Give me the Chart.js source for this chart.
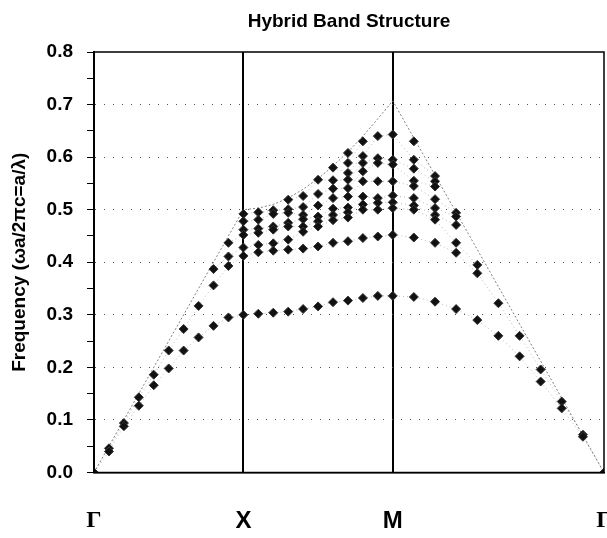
<!DOCTYPE html>
<html>
<head>
<meta charset="utf-8">
<script src="https://cdn.jsdelivr.net/npm/chart.js@4/dist/chart.umd.min.js"></script>
<style>
  html, body { margin: 0; padding: 0; background: #fff; overflow: hidden; }
</style>
</head>
<body>
<canvas id="bandChart" width="620" height="538"></canvas>
<script>
const _ = null;

// positions along the k-path: G-X and X-M in 10 steps, M-G (length sqrt2) in 10 steps
const kPath = [0, 0.1, 0.2, 0.3, 0.4, 0.5, 0.6, 0.7, 0.8, 0.9, 1.0,
  1.1, 1.2, 1.3, 1.4, 1.5, 1.6, 1.7, 1.8, 1.9, 2.0,
  2.141, 2.283, 2.424, 2.566, 2.707, 2.849, 2.990, 3.131, 3.273, 3.414];
const symPoints = ["Γ", "X", "M", "Γ"];
const symPos = [0, 1, 2, 3.414];

// bands, sorted by frequency at every k (null = no mode there)
const band1 = [0, .040, .088, .127, .166, .198, .232, .257, .279, .295, .300,
  .302, .304, .306, .311, .316, .324, .327, .332, .336, .336,
  .334, .325, .311, .290, .260, .221, .173, .122, .068, 0];
const band2 = [_, .046, .094, .143, .186, .232, .273, .317, .356, .393, .412,
  .419, .422, .424, .426, .430, .437, .440, .446, .449, .452,
  .447, .437, .418, .379, .322, .260, .196, .135, .072, _];
const band3 = [_, _, _, _, _, _, _, _, .387, .411, .428,
  .433, .436, .443, .458, .468, .480, .485, .500, .500, .503,
  .500, .481, .437, .395, _, _, _, _, _, _];
const band4 = [_, _, _, _, _, _, _, _, _, .437, .452,
  .456, .462, .468, .468, .478, .490, .495, .510, .513, .514,
  .508, .490, .471, _, _, _, _, _, _, _];
const band5 = [_, _, _, _, _, _, _, _, _, _, .462,
  .464, .468, .475, .482, .487, .502, .504, .525, .522, .527,
  .522, .503, .487, _, _, _, _, _, _, _];
const band6 = [_, _, _, _, _, _, _, _, _, _, .478,
  .481, .492, .494, .490, .508, .522, .525, .554, .554, .554,
  .545, .520, .494, _, _, _, _, _, _, _];
const band7 = [_, _, _, _, _, _, _, _, _, _, .492,
  .495, .499, .501, .505, .530, .540, .541, .573, .589, .586,
  .555, .544, _, _, _, _, _, _, _, _];
const band8 = [_, _, _, _, _, _, _, _, _, _, _,
  _, _, .519, .526, .557, .556, .557, .589, .598, .595,
  .578, .554, _, _, _, _, _, _, _, _];
const band9 = [_, _, _, _, _, _, _, _, _, _, _,
  _, _, _, _, _, .580, .570, .602, .640, .643,
  .595, .564, _, _, _, _, _, _, _, _];
const band10 = [_, _, _, _, _, _, _, _, _, _, _,
  _, _, _, _, _, _, .589, .630, _, _,
  .630, _, _, _, _, _, _, _, _, _];
const band11 = [_, _, _, _, _, _, _, _, _, _, _,
  _, _, _, _, _, _, .608, _, _, _,
  _, _, _, _, _, _, _, _, _, _];

// light line
const lightK = [0, 1, 1.1, 1.2, 1.3, 1.4, 1.5, 1.6, 1.7, 1.8, 1.9, 2, 3.414];
const lightF = [0, 0.5, 0.503, 0.51, 0.522, 0.539, 0.559, 0.583, 0.61, 0.64, 0.673, 0.707, 0];

const chartTitle = "Hybrid Band Structure";
const yTitle = "Frequency (ωa/2πc=a/λ)";

const sans = '"Liberation Sans", Arial, sans-serif';
const bands = [band1, band2, band3, band4, band5, band6, band7, band8, band9, band10, band11];

function isMajor(v) {
  return Math.abs(v * 10 - Math.round(v * 10)) < 1e-6;
}

const datasets = bands.map((b, n) => ({
  label: "band " + (n + 1),
  data: kPath.map((k, i) => ({ x: k, y: b[i] })),
  showLine: true,
  spanGaps: false,
  borderColor: "rgba(0,0,0,0.28)",
  borderWidth: 1,
  borderDash: [1, 3],
  pointStyle: "rectRot",
  pointRadius: 4.5,
  pointBackgroundColor: "#111",
  pointBorderColor: "#333",
  pointBorderWidth: 1
}));

datasets.push({
  label: "light line",
  data: lightK.map((k, i) => ({ x: k, y: lightF[i] })),
  showLine: true,
  borderColor: "#808080",
  borderWidth: 1,
  borderDash: [2, 2],
  pointRadius: 0
});

const framePlugin = {
  id: "frame",
  afterDraw(chart) {
    const { ctx, chartArea: a } = chart;
    ctx.save();
    ctx.strokeStyle = "#000";
    ctx.lineWidth = 1.5;
    ctx.strokeRect(a.left, a.top, a.right - a.left, a.bottom - a.top);
    ctx.fillStyle = "#000";
    ctx.font = "bold 19px " + sans;
    ctx.textAlign = "center";
    ctx.textBaseline = "middle";
    ctx.fillText(chartTitle, (a.left + a.right) / 2, 22);
    ctx.restore();
  }
};

new Chart(document.getElementById("bandChart"), {
  type: "scatter",
  data: { datasets },
  options: {
    responsive: false,
    animation: false,
    layout: { padding: { left: 6, right: 16, top: 52, bottom: 2.5 } },
    plugins: {
      legend: { display: false },
      tooltip: { enabled: false }
    },
    scales: {
      x: {
        type: "linear",
        min: 0,
        max: 3.414,
        afterBuildTicks: s => { s.ticks = symPos.map(v => ({ value: v })); },
        afterFit: s => { s.height = 63; },
        ticks: {
          autoSkip: false,
          maxRotation: 0,
          padding: 2,
          color: "#000",
          callback: (v, i) => symPoints[i],
          font: c => ({
            family: (c.index === 0 || c.index === 3) ? '"Liberation Serif", serif' : sans,
            size: 24,
            weight: "bold"
          })
        },
        grid: {
          drawTicks: true,
          tickLength: 32,
          tickColor: "rgba(0,0,0,0)",
          lineWidth: 2,
          color: c => (c.tick && (c.tick.value === 1 || c.tick.value === 2)) ? "#000" : "rgba(0,0,0,0)"
        },
        border: { color: "#000", width: 1.5 }
      },
      y: {
        min: 0,
        max: 0.8,
        afterFit: s => { s.width = 88; },
        ticks: {
          stepSize: 0.05,
          autoSkip: false,
          padding: 14,
          color: "#000",
          font: { family: sans, size: 19, weight: "bold" },
          callback: v => isMajor(v) ? v.toFixed(1) : ""
        },
        grid: {
          tickLength: 7,
          tickColor: "#000",
          lineWidth: 1,
          color: c => (c.tick && isMajor(c.tick.value) && c.tick.value > 0.05 && c.tick.value < 0.75) ? "#555" : "rgba(0,0,0,0)"
        },
        border: { color: "#000", width: 2, dash: [1, 8] },
        title: {
          display: true,
          text: yTitle,
          color: "#000",
          font: { family: sans, size: 19, weight: "bold" },
          padding: { top: 2, bottom: 4 }
        }
      }
    }
  },
  plugins: [framePlugin]
});
</script>
</body>
</html>
